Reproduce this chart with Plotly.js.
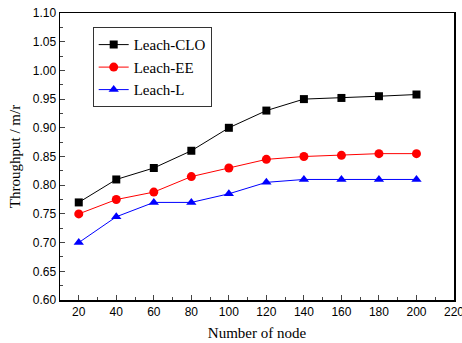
<!DOCTYPE html>
<html><head><meta charset="utf-8">
<script src="https://cdn.plot.ly/plotly-3.0.1.min.js"></script>
<style>html,body{margin:0;padding:0;background:#fff}#c{width:462px;height:343px}</style>
</head><body><div id="c"></div>
<script>
var nodes = [20, 40, 60, 80, 100, 120, 140, 160, 180, 200];
var clo = [0.77, 0.81, 0.83, 0.86, 0.90, 0.93, 0.95, 0.952, 0.955, 0.958];
var ee = [0.75, 0.775, 0.788, 0.815, 0.83, 0.845, 0.85, 0.852, 0.855, 0.855];
var ll = [0.70, 0.745, 0.77, 0.77, 0.785, 0.805, 0.81, 0.81, 0.81, 0.81];
var names = ['Leach-CLO', 'Leach-EE', 'Leach-L'];
var xTicks = [20, 40, 60, 80, 100, 120, 140, 160, 180, 200, 220];

var traces = [
  {x: nodes, y: clo, name: names[0], mode: 'lines+markers', line: {color: '#000', width: 1}, marker: {symbol: 'square', size: 8, color: '#000'}},
  {x: nodes, y: ee, name: names[1], mode: 'lines+markers', line: {color: '#ff0000', width: 1}, marker: {symbol: 'circle', size: 9, color: '#ff0000'}},
  {x: nodes, y: ll, name: names[2], mode: 'lines+markers', line: {color: '#0000ff', width: 1}, marker: {symbol: 'triangle-up', size: 9, color: '#0000ff'}}
];
var layout = {
  width: 462, height: 343,
  margin: {l: 60, r: 8, t: 13, b: 43},
  paper_bgcolor: '#fff', plot_bgcolor: '#fff',
  font: {family: 'Liberation Sans, Arial', size: 12, color: '#000'},
  showlegend: true,
  legend: {x: 0.083, y: 0.95, xanchor: 'left', yanchor: 'top', bordercolor: '#333', borderwidth: 1,
    bgcolor: '#fff', font: {family: 'Liberation Serif, Times New Roman', size: 15}, tracegroupgap: 0, itemwidth: 30},
  xaxis: {range: [10, 220], tickvals: xTicks, ticks: 'inside', ticklen: 5, ticklabeloverflow: 'allow',
    minor: {dtick: 10, ticks: 'inside', ticklen: 3, tick0: 10},
    showline: true, linecolor: '#000', linewidth: 1.5, mirror: true, showgrid: false, zeroline: false,
    title: {text: 'Number of node', font: {family: 'Liberation Serif, Times New Roman', size: 15}, standoff: 9}},
  yaxis: {range: [0.60, 1.10], dtick: 0.05, tickformat: '.2f', ticks: 'inside', ticklen: 5,
    minor: {dtick: 0.025, ticks: 'inside', ticklen: 3},
    showline: true, linecolor: '#000', linewidth: 1.5, mirror: true, showgrid: false, zeroline: false,
    title: {text: 'Throughput / m/r', font: {family: 'Liberation Serif, Times New Roman', size: 15}, standoff: 8}}
};
Plotly.newPlot('c', traces, layout, {displayModeBar: false, staticPlot: true});
</script></body></html>
